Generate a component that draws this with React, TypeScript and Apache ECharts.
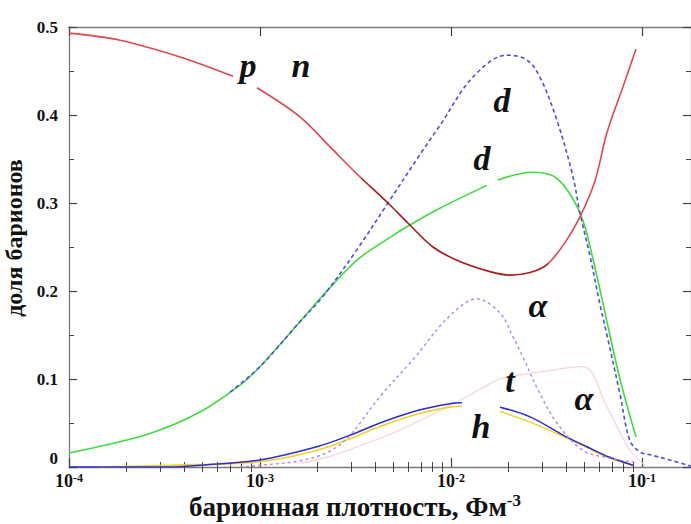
import React, { useEffect, useRef } from "react";
import * as echarts from "echarts";

// x values are log10 of baryon density (fm^-3); y values are baryon fractions
const X_MIN = -4;
const X_MAX = -0.743;
const decadeTicks = [-4, -3, -2, -1];

// p and n coincide; the middle section of the curve is drawn darker
const DARK_FROM = -2.47;
const DARK_TO = -1.49;

const protonP: [number, number | null][] = [
  [-4.0, 0.493], [-3.733, 0.485], [-3.419, 0.466], [-3.141, 0.444], [-3.08, null],
  [-3.016, 0.431], [-2.791, 0.398], [-2.634, 0.364], [-2.492, 0.333], [-2.33, 0.3],
  [-2.215, 0.275], [-2.094, 0.25], [-1.969, 0.235], [-1.796, 0.222], [-1.691, 0.218],
  [-1.586, 0.221], [-1.497, 0.23], [-1.403, 0.255], [-1.325, 0.284], [-1.246, 0.325],
  [-1.183, 0.38], [-1.099, 0.432], [-1.031, 0.475],
];

const deuteronSolid: [number, number | null][] = [
  [-4.0, 0.016], [-3.838, 0.0235], [-3.576, 0.038], [-3.314, 0.0625], [-3.105, 0.093],
  [-3.0, 0.114], [-2.791, 0.165], [-2.67, 0.195], [-2.492, 0.235], [-2.319, 0.261],
  [-2.215, 0.275], [-2.058, 0.294], [-1.812, 0.32], [-1.78, null], [-1.754, 0.326],
  [-1.576, 0.335], [-1.445, 0.328], [-1.325, 0.289], [-1.257, 0.237], [-1.183, 0.165],
  [-1.115, 0.1], [-1.031, 0.034],
];

const deuteronDashed: [number, number][] = [
  [-3.157, 0.085], [-3.0, 0.114], [-2.791, 0.165], [-2.67, 0.194], [-2.492, 0.247],
  [-2.33, 0.3], [-2.147, 0.36], [-2.058, 0.388], [-1.885, 0.443], [-1.707, 0.468],
  [-1.602, 0.4625], [-1.534, 0.443], [-1.445, 0.394], [-1.361, 0.33], [-1.325, 0.289],
  [-1.272, 0.24], [-1.22, 0.185], [-1.183, 0.15], [-1.115, 0.083], [-1.063, 0.03],
  [-1.01, 0.017], [-0.958, 0.014], [-0.838, 0.007], [-0.743, 0.001],
];

const alphaDashed: [number, number][] = [
  [-3.105, 0.0], [-3.0, 0.002], [-2.791, 0.007], [-2.634, 0.018], [-2.529, 0.036],
  [-2.372, 0.08], [-2.199, 0.122], [-2.005, 0.172], [-1.864, 0.191], [-1.743, 0.175],
  [-1.675, 0.148], [-1.623, 0.125], [-1.545, 0.088], [-1.445, 0.05], [-1.309, 0.019],
  [-1.168, 0.01], [-1.031, 0.005],
];

const tritonT: [number, number | null][] = [
  [-4.0, 0.0], [-3.471, 0.0], [-3.314, 0.002], [-3.0, 0.008], [-2.702, 0.023],
  [-2.529, 0.036], [-2.372, 0.05], [-2.162, 0.065], [-2.005, 0.072], [-1.942, 0.073],
  [-1.85, null], [-1.743, 0.068], [-1.586, 0.057], [-1.393, 0.034], [-1.288, 0.023],
  [-1.168, 0.011], [-1.047, 0.002],
];

const helionH: [number, number | null][] = [
  [-3.838, 0.0], [-3.471, 0.002], [-3.0, 0.006], [-2.702, 0.019], [-2.529, 0.032],
  [-2.372, 0.046], [-2.162, 0.061], [-2.005, 0.068], [-1.942, 0.069], [-1.85, null],
  [-1.743, 0.063], [-1.586, 0.051], [-1.393, 0.033], [-1.288, 0.022], [-1.168, 0.01],
  [-1.047, 0.002],
];

const alphaSolid: [number, number][] = [
  [-2.791, 0.004], [-2.634, 0.012], [-2.44, 0.027], [-2.267, 0.042], [-2.005, 0.07],
  [-1.848, 0.088], [-1.743, 0.1], [-1.534, 0.108], [-1.309, 0.114], [-1.183, 0.068],
  [-1.063, 0.019], [-0.984, 0.002],
];

const curveLabels = ["p", "n", "d", "d", "α", "t", "α", "h"];

const SERIF = "Liberation Serif";

const minorTicks: number[] = [];
decadeTicks.forEach((d) => {
  for (let k = 2; k <= 9; k++) {
    const v = d + Math.log10(k);
    if (v < X_MAX) minorTicks.push(v);
  }
});

const axisColor = "#7a7a7a";
const tickColor = "#444";

function xAxisPair(position: "top" | "bottom", withLabels: boolean) {
  const major: any = {
    type: "value",
    min: X_MIN,
    max: X_MAX,
    position,
    axisLine: { show: true, onZero: false, lineStyle: { color: axisColor, width: 1.3 } },
    axisTick: {
      show: true,
      inside: true,
      length: 9,
      customValues: decadeTicks,
      lineStyle: { color: tickColor, width: 1.2 },
    },
    axisLabel: withLabels
      ? {
          show: true,
          customValues: decadeTicks,
          margin: 5,
          formatter: (v: number) =>
            Number.isInteger(Math.round(v * 1000) / 1000) ? `{b|10}{s|${Math.round(v)}}` : "",
          rich: {
            b: { fontFamily: SERIF, fontWeight: "bold", fontSize: 18, lineHeight: 18, color: "#111" },
            s: {
              fontFamily: SERIF,
              fontWeight: "bold",
              fontSize: 12,
              lineHeight: 12,
              color: "#111",
              padding: [0, 0, 7, 0],
            },
          },
        }
      : { show: false },
    splitLine: { show: false },
  };
  if (withLabels) {
    major.name = "{t|барионная плотность, Фм}{s|-3}";
    major.nameLocation = "middle";
    major.nameGap = 26;
    major.nameMoveOverlap = false;
    major.nameTextStyle = {
      padding: [0, 50, 0, 0],
      rich: {
        t: { fontFamily: SERIF, fontWeight: "bold", fontSize: 27, lineHeight: 27, color: "#111" },
        s: {
          fontFamily: SERIF,
          fontWeight: "bold",
          fontSize: 17,
          lineHeight: 17,
          color: "#111",
          padding: [0, 0, 12, 0],
        },
      },
    };
  }
  const minor: any = {
    type: "value",
    min: X_MIN,
    max: X_MAX,
    position,
    axisLine: { show: false },
    axisTick: {
      show: true,
      inside: true,
      length: 5,
      customValues: minorTicks,
      lineStyle: { color: tickColor, width: 1 },
    },
    axisLabel: { show: false },
    splitLine: { show: false },
  };
  return [major, minor];
}

function yAxis(position: "left" | "right", withLabels: boolean) {
  const ax: any = {
    type: "value",
    min: 0,
    max: 0.5,
    interval: 0.1,
    position,
    axisLine: { show: true, onZero: false, lineStyle: { color: axisColor, width: 1.3 } },
    axisTick: { show: true, inside: true, length: 8, lineStyle: { color: tickColor, width: 1.2 } },
    minorTick: { show: true, splitNumber: 2, length: 5, lineStyle: { color: tickColor, width: 1 } },
    splitLine: { show: false },
    minorSplitLine: { show: false },
    axisLabel: withLabels
      ? {
          show: true,
          margin: 11,
          fontFamily: SERIF,
          fontWeight: "bold",
          fontSize: 17,
          color: "#111",
          formatter: (v: number) => (v === 0 ? "{z|0}" : `${Math.round(v * 10) / 10}`),
          rich: {
            z: {
              fontFamily: SERIF,
              fontWeight: "bold",
              fontSize: 17,
              color: "#111",
              padding: [0, 0, 18, 0],
            },
          },
        }
      : { show: false },
  };
  if (withLabels) {
    ax.name = "доля барионов";
    ax.nameLocation = "middle";
    ax.nameRotate = 90;
    ax.nameGap = 40;
    ax.nameTextStyle = {
      fontFamily: SERIF,
      fontWeight: "bold",
      fontSize: 24,
      color: "#111",
      padding: [0, 0, 0, 18],
    };
  }
  return ax;
}

function line(name: string, data: any[], color: string | null, width: number, dashed?: number[], z = 2) {
  const lineStyle: any = { width, type: dashed ? dashed : "solid" };
  if (color) lineStyle.color = color;
  return {
    type: "line",
    name,
    data,
    xAxisIndex: 0,
    yAxisIndex: 0,
    showSymbol: false,
    symbol: "none",
    smooth: 0.35,
    connectNulls: false,
    z,
    lineStyle,
  };
}

const labelPos: [number, number][] = [
  [248, 65], [301, 65], [502, 100], [482, 158], [538, 305], [510, 380], [584, 398], [481, 426],
];

export default function App() {
  const ref = useRef<HTMLDivElement>(null);
  useEffect(() => {
    if (!ref.current) return;
    const chart = echarts.init(ref.current, undefined, { renderer: "svg" });
    const option: any = {
      animation: false,
      backgroundColor: "#ffffff",
      grid: {
        left: 69,
        right: 0,
        top: 27,
        bottom: 57,
        containLabel: false,
        outerBoundsMode: "none",
      },
      xAxis: [...xAxisPair("bottom", true), ...xAxisPair("top", false)],
      yAxis: [yAxis("left", true), yAxis("right", false)],
      visualMap: [
        {
          type: "piecewise",
          show: false,
          dimension: 0,
          seriesIndex: 6,
          pieces: [
            { lt: DARK_FROM, color: "#e0474c" },
            { gte: DARK_FROM, lte: DARK_TO, color: "#a81c1c" },
            { gt: DARK_TO, color: "#e0474c" },
          ],
        },
      ],
      series: [
        line("α (сплошная)", alphaSolid, "#f3d2de", 1.2, undefined, 2),
        line("h", helionH, "#f2d02a", 1.6, undefined, 3),
        line("t", tritonT, "#2b2bd4", 1.5, undefined, 4),
        line("α", alphaDashed, "#b485e6", 1.4, [3, 3], 4),
        line("d", deuteronSolid, "#3fdc3f", 1.6, undefined, 3),
        line("d (пунктир)", deuteronDashed, "#4d4de0", 1.6, [4, 3], 5),
        line("p, n", protonP, null, 1.6, undefined, 6),
      ],
      graphic: curveLabels.map((t, i) => ({
        type: "text",
        x: labelPos[i][0],
        y: labelPos[i][1],
        z: 100,
        style: {
          text: t,
          fontFamily: SERIF,
          fontStyle: "italic",
          fontWeight: "bold",
          fontSize: 34,
          fill: "#111",
          textAlign: "center",
          textVerticalAlign: "middle",
        },
      })),
    };
    chart.setOption(option);
    return () => chart.dispose();
  }, []);
  return (
    <div
      ref={ref}
      style={{ position: "absolute", left: 0, top: 0, width: 691, height: 524, background: "#fff" }}
    />
  );
}
